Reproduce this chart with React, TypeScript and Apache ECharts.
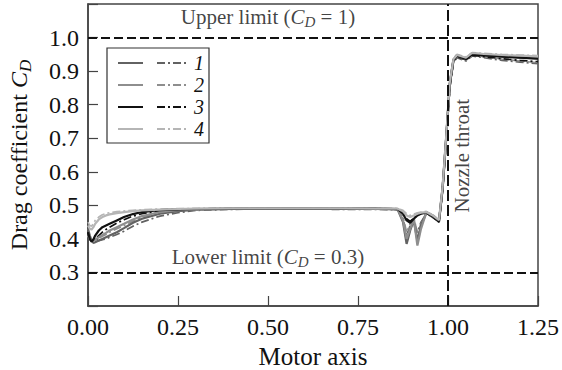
import React, { useEffect, useRef } from "react";
import * as echarts from "echarts";

// Motor axis positions (shared by every curve)
const xs = [0, 0.005, 0.01, 0.015, 0.02, 0.03, 0.04, 0.05, 0.06, 0.08, 0.1, 0.125, 0.15, 0.2, 0.25, 0.3, 0.4, 0.5, 0.6, 0.7, 0.8, 0.86, 0.875, 0.885, 0.895, 0.905, 0.915, 0.925, 0.94, 0.96, 0.975, 0.985, 0.995, 1.005, 1.015, 1.025, 1.05, 1.067, 1.1, 1.15, 1.2, 1.25];

// Drag coefficient curves: solid and dash-dot for each case 1..4
const cd1Solid = [0.43, 0.41, 0.395, 0.388, 0.39, 0.395, 0.4, 0.405, 0.41, 0.42, 0.432, 0.448, 0.46, 0.475, 0.483, 0.487, 0.489, 0.49, 0.49, 0.489, 0.489, 0.488, 0.45, 0.385, 0.425, 0.455, 0.395, 0.44, 0.478, 0.465, 0.452, 0.55, 0.7, 0.86, 0.932, 0.945, 0.935, 0.952, 0.948, 0.944, 0.94, 0.938];
const cd1Dash = [0.42, 0.4, 0.392, 0.39, 0.392, 0.395, 0.398, 0.4, 0.405, 0.413, 0.423, 0.438, 0.45, 0.468, 0.478, 0.485, 0.488, 0.489, 0.489, 0.488, 0.488, 0.487, 0.46, 0.41, 0.44, 0.45, 0.42, 0.45, 0.476, 0.462, 0.45, 0.545, 0.69, 0.85, 0.925, 0.94, 0.93, 0.945, 0.94, 0.932, 0.927, 0.922];
const cd2Solid = [0.41, 0.4, 0.395, 0.395, 0.398, 0.405, 0.412, 0.418, 0.425, 0.435, 0.445, 0.458, 0.468, 0.48, 0.486, 0.488, 0.49, 0.49, 0.491, 0.49, 0.49, 0.489, 0.455, 0.4, 0.43, 0.46, 0.38, 0.43, 0.48, 0.468, 0.455, 0.555, 0.705, 0.865, 0.935, 0.948, 0.938, 0.953, 0.95, 0.946, 0.943, 0.94];
const cd2Dash = [0.41, 0.398, 0.392, 0.393, 0.396, 0.402, 0.408, 0.413, 0.42, 0.43, 0.44, 0.453, 0.465, 0.477, 0.484, 0.487, 0.489, 0.49, 0.49, 0.489, 0.489, 0.488, 0.465, 0.42, 0.445, 0.465, 0.415, 0.445, 0.477, 0.463, 0.452, 0.545, 0.695, 0.855, 0.928, 0.942, 0.932, 0.947, 0.943, 0.936, 0.93, 0.925];
const cd3Solid = [0.42, 0.4, 0.392, 0.398, 0.41, 0.425, 0.435, 0.44, 0.445, 0.455, 0.465, 0.474, 0.48, 0.486, 0.488, 0.489, 0.49, 0.49, 0.49, 0.49, 0.49, 0.489, 0.475, 0.455, 0.448, 0.46, 0.47, 0.475, 0.478, 0.465, 0.452, 0.55, 0.7, 0.86, 0.932, 0.946, 0.936, 0.95, 0.947, 0.943, 0.94, 0.937];
const cd3Dash = [0.42, 0.405, 0.395, 0.395, 0.4, 0.41, 0.42, 0.428, 0.435, 0.447, 0.457, 0.468, 0.475, 0.483, 0.487, 0.489, 0.49, 0.49, 0.49, 0.49, 0.489, 0.488, 0.478, 0.46, 0.452, 0.462, 0.47, 0.476, 0.478, 0.463, 0.45, 0.545, 0.69, 0.85, 0.928, 0.943, 0.933, 0.947, 0.943, 0.937, 0.932, 0.928];
const cd4Solid = [0.44, 0.43, 0.428, 0.435, 0.445, 0.458, 0.465, 0.47, 0.473, 0.477, 0.48, 0.483, 0.485, 0.487, 0.489, 0.49, 0.491, 0.491, 0.491, 0.491, 0.49, 0.49, 0.482, 0.47, 0.465, 0.47, 0.475, 0.478, 0.48, 0.468, 0.456, 0.555, 0.705, 0.865, 0.935, 0.948, 0.94, 0.954, 0.951, 0.948, 0.946, 0.944];
const cd4Dash = [0.45, 0.44, 0.438, 0.445, 0.455, 0.465, 0.472, 0.476, 0.478, 0.481, 0.483, 0.485, 0.487, 0.489, 0.49, 0.491, 0.492, 0.492, 0.492, 0.492, 0.491, 0.491, 0.485, 0.475, 0.47, 0.474, 0.478, 0.48, 0.482, 0.47, 0.458, 0.56, 0.71, 0.87, 0.938, 0.95, 0.942, 0.955, 0.953, 0.95, 0.948, 0.946];

const caseNames = ["1", "2", "3", "4"];
const caseColors = ["#626262", "#8e8e8e", "#111111", "#b5b5b5"];
const solidCurves = [cd1Solid, cd2Solid, cd3Solid, cd4Solid];
const dashCurves = [cd1Dash, cd2Dash, cd3Dash, cd4Dash];

// Reference lines
const limitY = [1.0, 0.3];
const throatX = 1.0;

// Annotation anchors [x, y]
const upperLabelAt = [0.5, 1.06];
const lowerLabelAt = [0.5, 0.345];
const throatLabelAt = [1.039, 0.648];

const SERIF = "'Liberation Serif', 'DejaVu Serif', serif";
const DASHDOT = [8, 3, 2, 3];

const rich = {
  n: { fontFamily: SERIF, fontSize: 21, color: "#111", lineHeight: 24 },
  c: { fontFamily: SERIF, fontStyle: "italic", fontSize: 21, color: "#111", lineHeight: 24 },
  s: { fontFamily: SERIF, fontStyle: "italic", fontSize: 15, color: "#111", lineHeight: 14, padding: [10, 0, 0, 0] },
};

export default function App() {
  const ref = useRef<HTMLDivElement>(null);

  useEffect(() => {
    if (!ref.current) return;
    const chart = echarts.init(ref.current, null, { renderer: "svg" });

    const curveSeries: any[] = [];
    for (let i = 0; i < 4; i++) {
      curveSeries.push({
        name: caseNames[i] + " dash",
        type: "line",
        data: xs.map((x, k) => [x, dashCurves[i][k]]),
        showSymbol: false,
        symbol: "none",
        lineStyle: { color: caseColors[i], width: 1.7, type: DASHDOT },
        z: 2,
      });
      curveSeries.push({
        name: caseNames[i] + " solid",
        type: "line",
        data: xs.map((x, k) => [x, solidCurves[i][k]]),
        showSymbol: false,
        symbol: "none",
        lineStyle: { color: caseColors[i], width: 2.2 },
        z: 3,
      });
    }

    const legendX = 107;
    const legendY = 48;
    const rowH = 22;
    const legendChildren: any[] = [
      {
        type: "rect",
        shape: { x: legendX, y: legendY, width: 102, height: 95 },
        style: { fill: "#fff", stroke: "#333", lineWidth: 1.2 },
      },
    ];
    for (let i = 0; i < 4; i++) {
      const y = legendY + 15 + i * rowH;
      legendChildren.push({
        type: "line",
        shape: { x1: legendX + 11, y1: y, x2: legendX + 36, y2: y },
        style: { stroke: caseColors[i], lineWidth: 2 },
      });
      legendChildren.push({
        type: "line",
        shape: { x1: legendX + 50, y1: y, x2: legendX + 80, y2: y },
        style: { stroke: caseColors[i], lineWidth: 2, lineDash: DASHDOT },
      });
      legendChildren.push({
        type: "text",
        x: legendX + 87,
        y: y,
        style: {
          text: caseNames[i],
          fontFamily: SERIF,
          fontStyle: "italic",
          fontSize: 20,
          fill: "#111",
          verticalAlign: "middle",
          align: "left",
        },
      });
    }

    chart.setOption({
      animation: false,
      backgroundColor: "#fff",
      grid: {
        left: 88,
        right: 24,
        top: 4,
        bottom: 64,
        show: true,
        borderColor: "#444",
        borderWidth: 1.5,
        backgroundColor: "transparent",
        containLabel: false,
        outerBoundsMode: "none",
      },
      xAxis: {
        type: "value",
        min: 0,
        max: 1.25,
        interval: 0.25,
        name: "Motor axis",
        nameLocation: "middle",
        nameGap: 30,
        nameTextStyle: { fontFamily: SERIF, fontSize: 25, color: "#111" },
        axisLine: { lineStyle: { color: "#444", width: 1.5 } },
        axisTick: { inside: true, length: 10, lineStyle: { color: "#444", width: 1.2 } },
        axisLabel: {
          fontFamily: SERIF,
          fontSize: 24,
          color: "#111",
          margin: 9,
          hideOverlap: false,
          formatter: (v: number) => v.toFixed(2),
        },
        splitLine: { show: false },
      },
      yAxis: {
        type: "value",
        min: 0.2,
        max: 1.1,
        interval: 0.1,
        name: "{n|Drag coefficient }{c|C}{s|D}",
        nameLocation: "middle",
        nameRotate: 90,
        nameGap: 55,
        nameTextStyle: {
          rich: {
            n: { fontFamily: SERIF, fontSize: 24, color: "#111", lineHeight: 28 },
            c: { fontFamily: SERIF, fontStyle: "italic", fontSize: 24, color: "#111", lineHeight: 28 },
            s: { fontFamily: SERIF, fontStyle: "italic", fontSize: 17, color: "#111", lineHeight: 17, padding: [12, 0, 0, 0] },
          },
        },
        axisLine: { show: true, lineStyle: { color: "#444", width: 1.5 } },
        axisTick: { show: true, inside: true, length: 10, lineStyle: { color: "#444", width: 1.2 } },
        axisLabel: {
          fontFamily: SERIF,
          fontSize: 24,
          color: "#111",
          margin: 9,
          formatter: (v: number) => (v < 0.25 || v > 1.05 ? "" : v.toFixed(1)),
        },
        splitLine: { show: false },
      },
      graphic: legendChildren,
      series: [
        ...curveSeries,
        {
          name: "limits",
          type: "line",
          data: [],
          silent: true,
          markLine: {
            symbol: "none",
            silent: true,
            label: { show: false },
            lineStyle: { color: "#111", width: 2, type: [9, 4] },
            data: [
              ...limitY.map((v) => ({ yAxis: v })),
              { xAxis: throatX, lineStyle: { color: "#111", width: 2, type: [11, 4] } },
            ],
          },
          z: 5,
        },
        {
          name: "annotations",
          type: "scatter",
          symbolSize: 0,
          silent: true,
          data: [
            {
              value: upperLabelAt,
              label: {
                show: true,
                position: "inside",
                formatter: "{n|Upper limit (}{c|C}{s|D}{n| = 1)}",
                rich,
              },
            },
            {
              value: lowerLabelAt,
              label: {
                show: true,
                position: "inside",
                formatter: "{n|Lower limit (}{c|C}{s|D}{n| = 0.3)}",
                rich,
              },
            },
            {
              value: throatLabelAt,
              label: {
                show: true,
                position: "inside",
                rotate: 90,
                formatter: "Nozzle throat",
                fontFamily: SERIF,
                fontSize: 21,
                color: "#111",
              },
            },
          ],
          z: 6,
        },
      ],
    });

    return () => chart.dispose();
  }, []);

  return (
    <div
      ref={ref}
      style={{ position: "fixed", left: 0, top: 0, width: 562, height: 370 }}
    />
  );
}
